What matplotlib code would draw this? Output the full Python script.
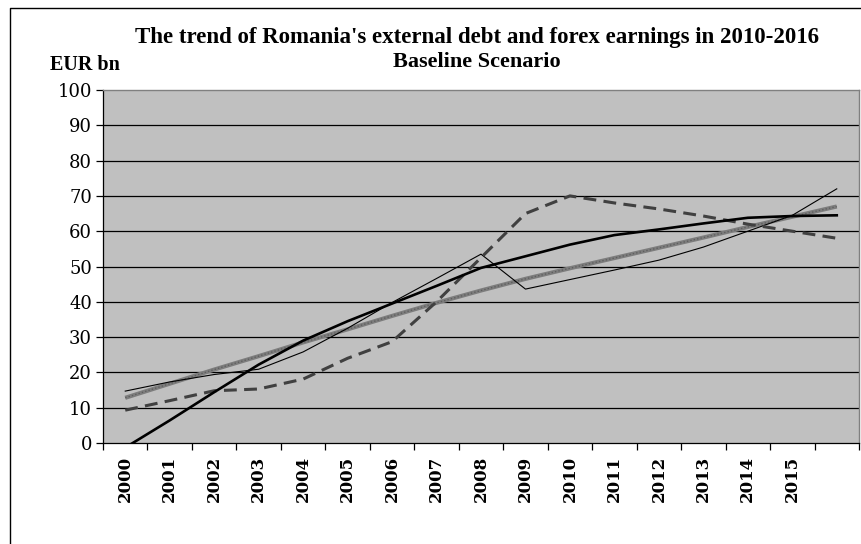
import matplotlib
matplotlib.use("Agg")
import matplotlib.pyplot as plt
from matplotlib.lines import Line2D

# Categories (years) and axis tick labels
years = list(range(2000, 2017))
x_labels = [str(y) for y in range(2000, 2016)] + [""]
y_ticks = list(range(0, 101, 10))

# Series values, EUR bn
external_debt = [14.7, 17.3, 19.4, 20.9, 25.8, 32.5, 39.8, 46.6, 53.5,
                 43.6, 46.3, 49.0, 51.8, 55.5, 60.0, 64.5, 72.0]
forex_earnings = [9.3, 12.0, 14.8, 15.3, 18.1, 24.0, 28.7, 40.0, 52.5,
                  65.0, 70.0, 68.0, 66.3, 64.3, 62.0, 60.0, 58.0]
debt_trend = [-1.3, 6.4, 14.4, 22.2, 29.0, 34.5, 39.5, 44.5, 49.6,
              52.9, 56.2, 58.9, 60.5, 62.2, 63.8, 64.3, 64.5]
earnings_trend = [12.8, 16.8, 20.8, 24.6, 28.5, 32.2, 36.0, 39.7, 43.2,
                  46.5, 49.5, 52.4, 55.3, 58.2, 61.2, 64.1, 67.0]

plt.rcParams["font.family"] = ["Liberation Serif", "DejaVu Serif"]

W, H = 861, 544
fig = plt.figure(figsize=(W / 100, H / 100), dpi=100)
fig.patch.set_facecolor("white")


def fx(px):
    return px / W


def fy(py):
    return 1 - py / H


ax = fig.add_axes([fx(103), fy(443), fx(859) - fx(103), fy(90) - fy(443)])
ax.set_facecolor("#c0c0c0")

pos = list(range(len(years)))

ax.plot(pos, earnings_trend, color="#7d7d7d", lw=3.0, solid_capstyle="butt", zorder=3)
ax.plot(pos, earnings_trend, color="#5e5e5e", lw=1.0, ls=(0, (1, 1.5)), zorder=3)
ax.plot(pos, external_debt, color="black", lw=0.8, zorder=4)
ax.plot(pos, forex_earnings, color="#404040", lw=2.2, dashes=(4.2, 2.4), zorder=4)
ax.plot(pos, debt_trend, color="black", lw=1.9, zorder=5)

ax.set_xlim(-0.5, len(years) - 0.5)
ax.set_ylim(0, 100)

# y axis
ax.set_yticks(y_ticks)
ax.set_yticklabels([str(v) for v in y_ticks], family="DejaVu Serif", fontsize=13)
ax.tick_params(axis="y", direction="out", length=5, width=0.9, pad=3, colors="black")
for v in y_ticks[1:-1]:
    ax.axhline(v, color="black", lw=0.9, zorder=1)

# x axis: ticks between categories, labels centred on categories
ax.set_xticks([p - 0.5 for p in pos] + [len(years) - 0.5])
ax.set_xticklabels([])
ax.tick_params(axis="x", which="major", direction="out", length=5, width=0.9)
ax.set_xticks(pos, minor=True)
ax.set_xticklabels(x_labels, minor=True, rotation=90, family="DejaVu Serif",
                   fontsize=12, fontweight="semibold")
ax.tick_params(axis="x", which="minor", length=0, pad=9)

for side in ("left", "bottom"):
    ax.spines[side].set_color("black")
    ax.spines[side].set_linewidth(0.9)
for side in ("top", "right"):
    ax.spines[side].set_color("#808080")
    ax.spines[side].set_linewidth(1.0)

# Titles
fig.text(fx(477), fy(37), "The trend of Romania's external debt and forex earnings in 2010-2016",
         ha="center", va="center", fontsize=16.5, fontweight="bold")
fig.text(fx(477), fy(62), "Baseline Scenario", ha="center", va="center",
         fontsize=16, fontweight="bold")
fig.text(fx(50), fy(65), "EUR bn", ha="left", va="center", fontsize=14.5,
         fontweight="bold")

# Chart frame
fig.add_artist(Line2D([fx(9.5), fx(9.5), fx(W + 5)], [fy(H + 5), fy(7.5), fy(7.5)],
                      color="black", lw=1.0, transform=fig.transFigure))

fig.savefig("out.png", dpi=100)
